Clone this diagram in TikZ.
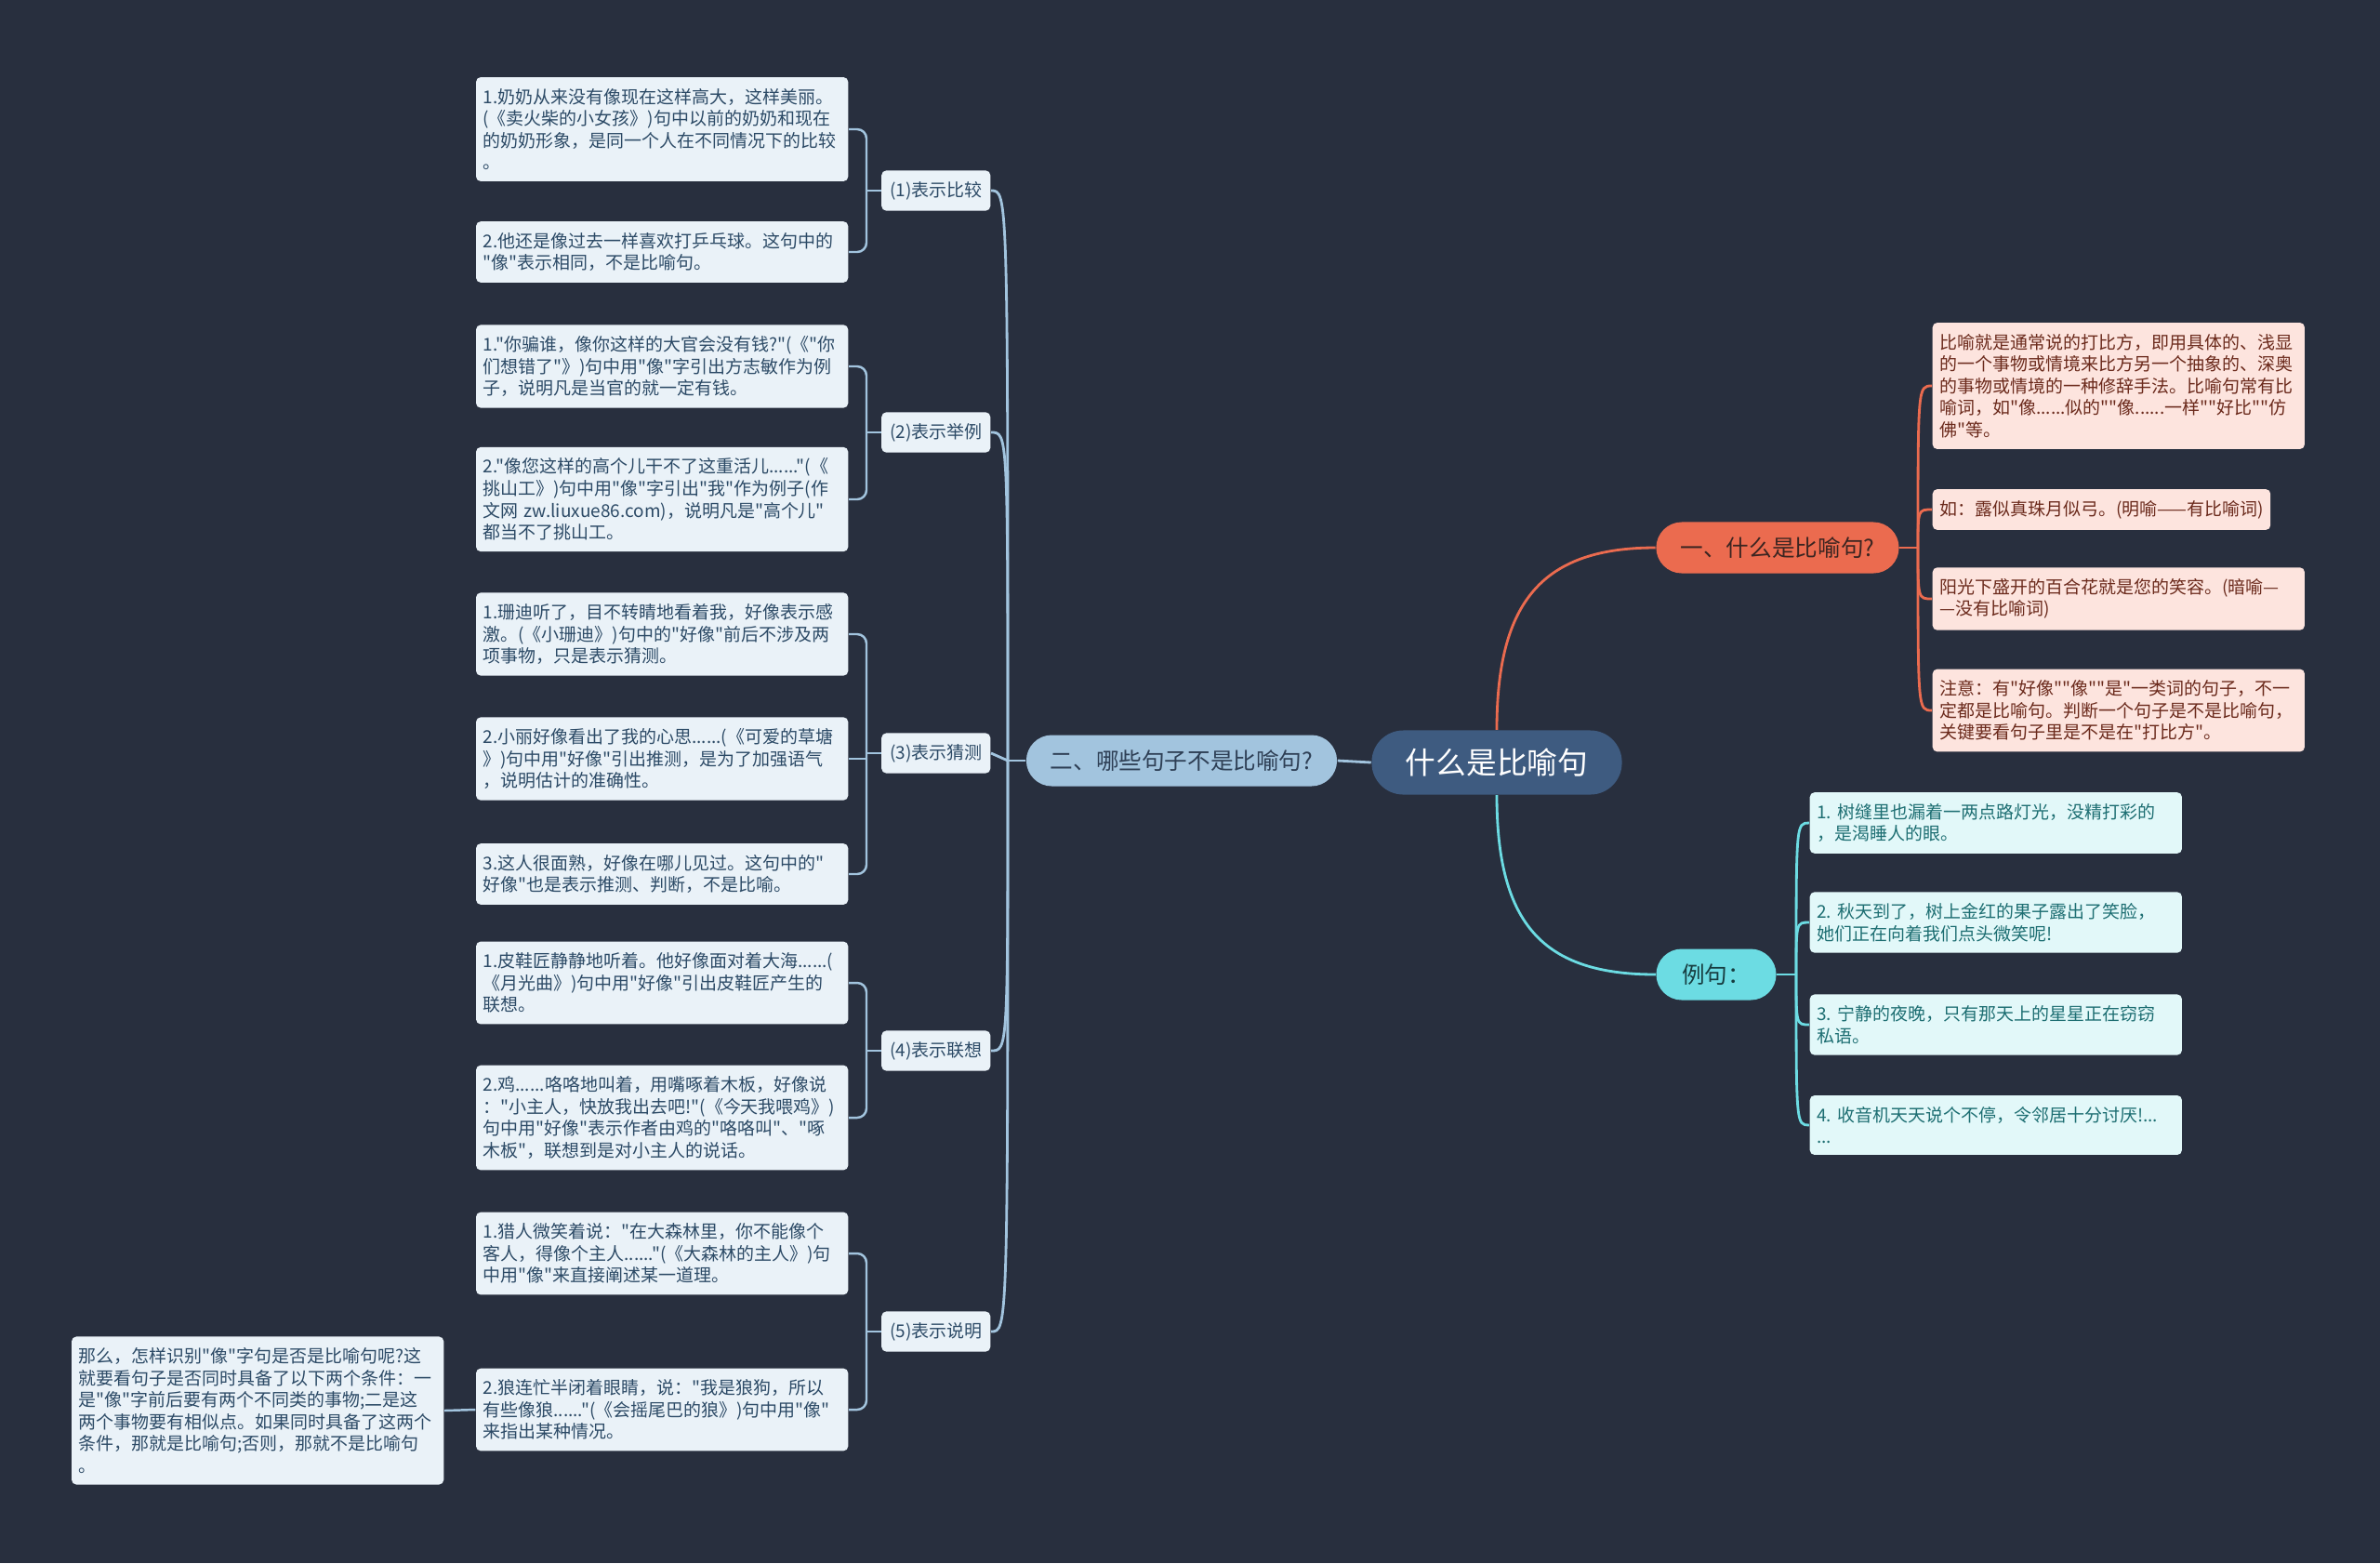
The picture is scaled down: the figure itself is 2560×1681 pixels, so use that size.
\documentclass[tikz,border=0pt]{standalone}
\usepackage{fontspec}
\setmainfont{Noto Sans CJK SC}[Ligatures=TeXOff]
\usepackage{tikz}
\usetikzlibrary{positioning, calc}
\definecolor{bgDark}{HTML}{282F3E}
\definecolor{rootBlue}{HTML}{3E5B80}
\definecolor{redMain}{HTML}{EB6B4F}
\definecolor{redLight}{HTML}{FDE4DE}
\definecolor{redText}{HTML}{6B2A1C}
\definecolor{redDeep}{HTML}{3B2521}
\definecolor{cyanMain}{HTML}{6CDCE3}
\definecolor{cyanLight}{HTML}{E2F8F9}
\definecolor{cyanText}{HTML}{1D6E72}
\definecolor{cyanDeep}{HTML}{173D40}
\definecolor{paleBlue}{HTML}{A2C4DE}
\definecolor{paleLight}{HTML}{EAF2F8}
\definecolor{paleText}{HTML}{2C4A66}
\definecolor{paleDeep}{HTML}{2E3F55}

\begin{document}
\begin{tikzpicture}[
    x=0.01cm, y=-0.01cm,
    mainbox/.style={fill=rootBlue, rounded corners=0.34cm, minimum width=2.69cm, minimum height=0.69cm, text=white, font=\fontsize{9.3}{11}\selectfont},
    topicbox/.style={rounded corners=0.275cm, minimum height=0.55cm, font=\fontsize{7}{8.5}\selectfont},
    subbox/.style={fill=paleLight, text=paleText, rounded corners=0.05cm, minimum width=1.17cm, minimum height=0.39cm, inner xsep=0.05cm, anchor=east, font=\fontsize{5.4}{6.7}\selectfont},
    leafbox/.style={rounded corners=0.05cm, text width=3.85cm, inner xsep=0.075cm, inner ysep=0.12cm, align=left, font=\fontsize{5.4}{6.7}\selectfont},
    paleleaf/.style={leafbox, fill=paleLight, text=paleText, anchor=east},
    redleaf/.style={leafbox, fill=redLight, text=redText, anchor=west},
    cyanleaf/.style={leafbox, fill=cyanLight, text=cyanText, anchor=west},
    pline/.style={draw=paleBlue, line width=0.8pt},
    rline/.style={draw=redMain, line width=0.8pt},
    cline/.style={draw=cyanMain, line width=0.8pt},
]
    \fill[bgDark] (0,0) rectangle (2560,1681);
    \useasboundingbox (0,0) rectangle (2560,1681);

    \node[mainbox] (root) at (1610,820) {什么是比喻句};
    \node[topicbox, fill=redMain, text=redDeep, minimum width=2.61cm] (t1) at (1912,589) {一、什么是比喻句?};
    \node[topicbox, fill=paleBlue, text=paleDeep, minimum width=3.34cm] (t2) at (1271,818) {二、哪些句子不是比喻句?};
    \node[topicbox, fill=cyanMain, text=cyanDeep, minimum width=1.29cm] (t3) at (1846,1048) {例句：};

    \node[subbox] (s1) at (1066,205) {(1)表示比较};
    \node[subbox] (s2) at (1066,465) {(2)表示举例};
    \node[subbox] (s3) at (1066,810) {(3)表示猜测};
    \node[subbox] (s4) at (1066,1130) {(4)表示联想};
    \node[subbox] (s5) at (1066,1432) {(5)表示说明};

    \node[paleleaf] (l11) at (913,139) {1.奶奶从来没有像现在这样高大，这样美丽。\\(《卖火柴的小女孩》)句中以前的奶奶和现在\\的奶奶形象，是同一个人在不同情况下的比较\\。};
    \node[paleleaf] (l12) at (913,271) {2.他还是像过去一样喜欢打乒乓球。这句中的\\"像"表示相同，不是比喻句。};
    \node[paleleaf] (l21) at (913,394) {1."你骗谁，像你这样的大官会没有钱?"(《"你\\们想错了"》)句中用"像"字引出方志敏作为例\\子，说明凡是当官的就一定有钱。};
    \node[paleleaf] (l22) at (913,537) {2."像您这样的高个儿干不了这重活儿......"(《\\挑山工》)句中用"像"字引出"我"作为例子(作\\文网~zw.liuxue86.com)，说明凡是"高个儿"\\都当不了挑山工。};
    \node[paleleaf] (l31) at (913,682) {1.珊迪听了，目不转睛地看着我，好像表示感\\激。(《小珊迪》)句中的"好像"前后不涉及两\\项事物，只是表示猜测。};
    \node[paleleaf] (l32) at (913,816) {2.小丽好像看出了我的心思......(《可爱的草塘\\》)句中用"好像"引出推测，是为了加强语气\\，说明估计的准确性。};
    \node[paleleaf] (l33) at (913,940) {3.这人很面熟，好像在哪儿见过。这句中的"\\好像"也是表示推测、判断，不是比喻。};
    \node[paleleaf] (l41) at (913,1057) {1.皮鞋匠静静地听着。他好像面对着大海......(\\《月光曲》)句中用"好像"引出皮鞋匠产生的\\联想。};
    \node[paleleaf] (l42) at (913,1202) {2.鸡......咯咯地叫着，用嘴啄着木板，好像说\\："小主人，快放我出去吧!"(《今天我喂鸡》)\\句中用"好像"表示作者由鸡的"咯咯叫"、"啄\\木板"，联想到是对小主人的说话。};
    \node[paleleaf] (l51) at (913,1348) {1.猎人微笑着说："在大森林里，你不能像个\\客人，得像个主人......"(《大森林的主人》)句\\中用"像"来直接阐述某一道理。};
    \node[paleleaf] (l52) at (913,1516) {2.狼连忙半闭着眼睛，说："我是狼狗，所以\\有些像狼......"(《会摇尾巴的狼》)句中用"像"\\来指出某种情况。};
    \node[paleleaf] (ex) at (478,1517) {那么，怎样识别"像"字句是否是比喻句呢?这\\就要看句子是否同时具备了以下两个条件：一\\是"像"字前后要有两个不同类的事物;二是这\\两个事物要有相似点。如果同时具备了这两个\\条件，那就是比喻句;否则，那就不是比喻句\\。};

    \node[redleaf] (r1) at (2078,415) {比喻就是通常说的打比方，即用具体的、浅显\\的一个事物或情境来比方另一个抽象的、深奥\\的事物或情境的一种修辞手法。比喻句常有比\\喻词，如"像......似的""像......一样""好比""仿\\佛"等。};
    \node[redleaf, text width=] (r2) at (2078,548) {如：露似真珠月似弓。(明喻——有比喻词)};
    \node[redleaf] (r3) at (2078,644) {阳光下盛开的百合花就是您的笑容。(暗喻—\\—没有比喻词)};
    \node[redleaf] (r4) at (2078,764) {注意：有"好像""像""是"一类词的句子，不一\\定都是比喻句。判断一个句子是不是比喻句，\\关键要看句子里是不是在"打比方"。};

    \node[cyanleaf] (c1) at (1946,885) {1.~树缝里也漏着一两点路灯光，没精打彩的\\，是渴睡人的眼。};
    \node[cyanleaf] (c2) at (1946,992) {2.~秋天到了，树上金红的果子露出了笑脸，\\她们正在向着我们点头微笑呢!};
    \node[cyanleaf] (c3) at (1946,1102) {3.~宁静的夜晚，只有那天上的星星正在窃窃\\私语。};
    \node[cyanleaf] (c4) at (1946,1210) {4.~收音机天天说个不停，令邻居十分讨厌!...\\...};

    \draw[rline] (root.north) .. controls ($(root.north)+(0,-140)$) and ($(t1.west)+(-120,0)$) .. (t1.west);
    \draw[cline] (root.south) .. controls ($(root.south)+(0,140)$) and ($(t3.west)+(-120,0)$) .. (t3.west);
    \draw[pline] (root.west) -- (t2.east);

    \coordinate (j2) at (1084,818);
    \draw[pline] (t2.west) -- (j2);
    \draw[pline] (j2) .. controls (j2 |- s1.east) .. (s1.east);
    \draw[pline] (j2) .. controls (j2 |- s2.east) .. (s2.east);
    \draw[pline] (j2) -- (s3.east);
    \draw[pline] (j2) .. controls (j2 |- s4.east) .. (s4.east);
    \draw[pline] (j2) .. controls (j2 |- s5.east) .. (s5.east);

    \coordinate (k1) at (932,205);
    \coordinate (k2) at (932,465);
    \coordinate (k3) at (932,810);
    \coordinate (k4) at (932,1130);
    \coordinate (k5) at (932,1432);
    \draw[pline, line width=0.7pt] (s1.west) -- (k1);
    \draw[pline, line width=0.7pt, rounded corners=0.1cm] (l11.east) -| (k1) |- (l12.east);
    \draw[pline, line width=0.7pt] (s2.west) -- (k2);
    \draw[pline, line width=0.7pt, rounded corners=0.1cm] (l21.east) -| (k2) |- (l22.east);
    \draw[pline, line width=0.7pt] (s3.west) -- (k3);
    \draw[pline, line width=0.7pt, rounded corners=0.1cm] (l31.east) -| (k3) |- (l33.east);
    \draw[pline, line width=0.7pt] (l32.east) -- (l32.east -| k3);
    \draw[pline, line width=0.7pt] (s4.west) -- (k4);
    \draw[pline, line width=0.7pt, rounded corners=0.1cm] (l41.east) -| (k4) |- (l42.east);
    \draw[pline, line width=0.7pt] (s5.west) -- (k5);
    \draw[pline, line width=0.7pt, rounded corners=0.1cm] (l51.east) -| (k5) |- (l52.east);
    \draw[pline, line width=0.7pt] (l52.west) -- (ex.east);

    \coordinate (j1) at (2063,589);
    \draw[rline] (t1.east) -- (j1);
    \draw[rline] (j1) .. controls (j1 |- r1.west) .. (r1.west);
    \draw[rline] (j1) .. controls (j1 |- r2.west) .. (r2.west);
    \draw[rline] (j1) .. controls (j1 |- r3.west) .. (r3.west);
    \draw[rline] (j1) .. controls (j1 |- r4.west) .. (r4.west);

    \coordinate (j3) at (1932,1048);
    \draw[cline] (t3.east) -- (j3);
    \draw[cline] (j3) .. controls (j3 |- c1.west) .. (c1.west);
    \draw[cline] (j3) .. controls (j3 |- c2.west) .. (c2.west);
    \draw[cline] (j3) .. controls (j3 |- c3.west) .. (c3.west);
    \draw[cline] (j3) .. controls (j3 |- c4.west) .. (c4.west);
\end{tikzpicture}
\end{document}
